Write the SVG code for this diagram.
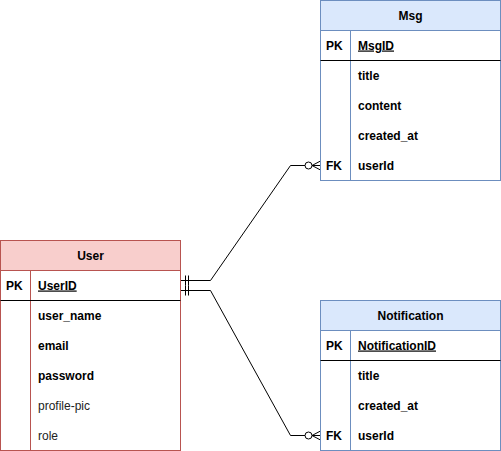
<svg xmlns="http://www.w3.org/2000/svg" width="501" height="451" viewBox="0 0 501 451">
<style>
text{font-family:"Liberation Sans",Arial,sans-serif;font-size:12px;fill:#000;font-weight:bold}
.h{text-anchor:middle}
.u{text-decoration:underline}
.n{font-weight:normal;fill:#222}
.red{stroke:#b85450}
.blue{stroke:#6c8ebf}
.con{fill:none;stroke:#000;stroke-width:1}
</style>
<rect width="501" height="451" fill="#fff"/>
<g id="connectors" class="con">
<path d="M180.5 280.5H210.5L290.5 165.5H320.5"/>
<path d="M185.5 275.5V285.5M188.5 275.5V285.5"/>
<circle cx="308.5" cy="165.5" r="3.5" fill="#fff"/>
<path d="M312 165.5L320.5 161M312 165.5H320.5M312 165.5L320.5 170"/>
<path d="M180.5 290.5H210.5L290.5 435.5H320.5"/>
<path d="M185.5 285.5V295.5M188.5 285.5V295.5"/>
<circle cx="308.5" cy="435.5" r="3.5" fill="#fff"/>
<path d="M312 435.5L320.5 431M312 435.5H320.5M312 435.5L320.5 440"/>
</g>
<g id="User">
<rect x="0.5" y="240.5" width="180" height="30" fill="#f8cecc" class="red"/>
<rect x="0.5" y="270.5" width="180" height="180" fill="#fff" class="red"/>
<line x1="30.5" y1="270.5" x2="30.5" y2="450.5" class="red"/>
<line x1="0.5" y1="300.5" x2="180.5" y2="300.5" stroke="#000"/>
<text x="90.5" y="259.5" class="h">User</text>
<text x="6" y="289.5">PK</text>
<text x="38" y="289.5" class="u">UserID</text>
<text x="38" y="319.5">user_name</text>
<text x="38" y="349.5">email</text>
<text x="38" y="379.5">password</text>
<text x="38" y="409.5" class="n">profile-pic</text>
<text x="38" y="439.5" class="n">role</text>
</g>
<g id="Msg">
<rect x="320.5" y="0.5" width="180" height="30" fill="#dae8fc" class="blue"/>
<rect x="320.5" y="30.5" width="180" height="150" fill="#fff" class="blue"/>
<line x1="350.5" y1="30.5" x2="350.5" y2="180.5" class="blue"/>
<line x1="320.5" y1="60.5" x2="500.5" y2="60.5" stroke="#000"/>
<text x="410.5" y="19.5" class="h">Msg</text>
<text x="326" y="49.5">PK</text>
<text x="358" y="49.5" class="u">MsgID</text>
<text x="358" y="79.5">title</text>
<text x="358" y="109.5">content</text>
<text x="358" y="139.5">created_at</text>
<text x="326" y="169.5">FK</text>
<text x="358" y="169.5">userId</text>
</g>
<g id="Notification">
<rect x="320.5" y="300.5" width="180" height="30" fill="#dae8fc" class="blue"/>
<rect x="320.5" y="330.5" width="180" height="120" fill="#fff" class="blue"/>
<line x1="350.5" y1="330.5" x2="350.5" y2="450.5" class="blue"/>
<line x1="320.5" y1="360.5" x2="500.5" y2="360.5" stroke="#000"/>
<text x="410.5" y="319.5" class="h">Notification</text>
<text x="326" y="349.5">PK</text>
<text x="358" y="349.5" class="u">NotificationID</text>
<text x="358" y="379.5">title</text>
<text x="358" y="409.5">created_at</text>
<text x="326" y="439.5">FK</text>
<text x="358" y="439.5">userId</text>
</g>
</svg>
